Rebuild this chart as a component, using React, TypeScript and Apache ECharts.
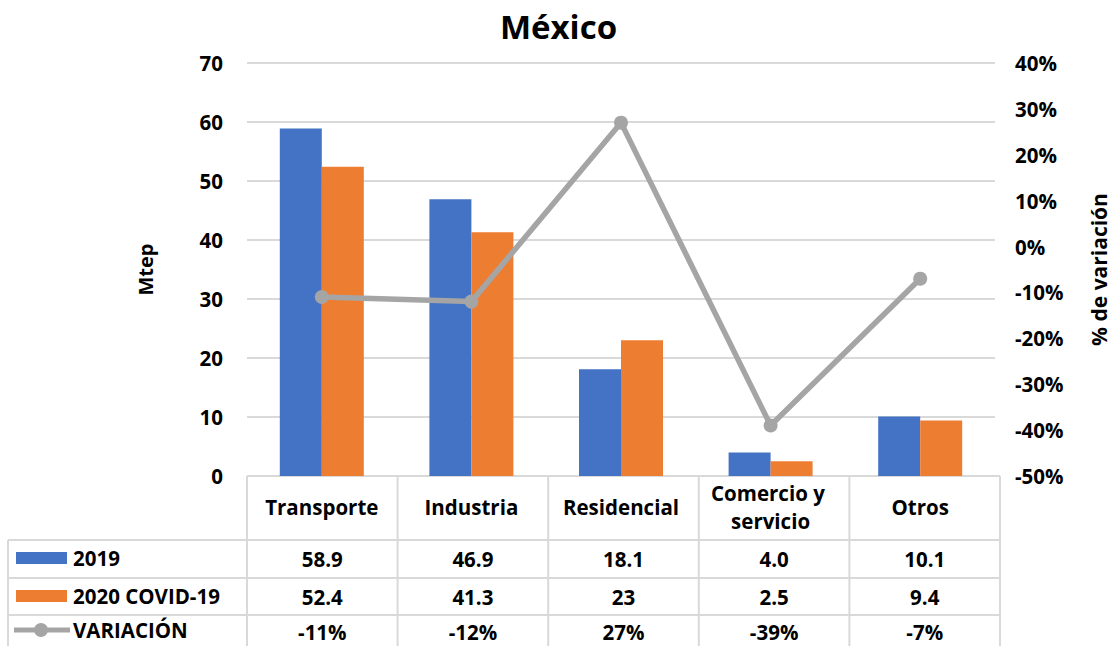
import React, { useEffect, useRef } from "react";
import * as echarts from "echarts";

const categories = ["Transporte", "Industria", "Residencial", "Comercio y servicio", "Otros"];
const values2019 = [58.9, 46.9, 18.1, 4.0, 10.1];
const values2020 = [52.4, 41.3, 23, 2.5, 9.4];
const variation = [-11, -12, 27, -39, -7];
const labels2019 = ["58.9", "46.9", "18.1", "4.0", "10.1"];
const labels2020 = ["52.4", "41.3", "23", "2.5", "9.4"];
const labelsVar = ["-11%", "-12%", "27%", "-39%", "-7%"];
const seriesNames = ["2019", "2020 COVID-19", "VARIACIÓN"];

const W = 1117;
const H = 646;
const GL = 247;
const GR = 1000;
const GT = 63;
const GB = 476;
const FONT = "'Open Sans', 'DejaVu Sans', sans-serif";
const FS = 20.5;
const BLUE = "#4472C4";
const ORANGE = "#ED7D31";
const GRAY = "#A5A5A5";
const LINE = "#D9D9D9";

export default function App() {
  const ref = useRef<HTMLDivElement>(null);
  useEffect(() => {
    const chart = echarts.init(ref.current!, null, { renderer: "svg" });
    const colW = (GR - GL) / categories.length;
    const rows = [476, 540, 578, 615, 652];
    const graphics: any[] = [];
    graphics.push({ type: "line", shape: { x1: GL, y1: rows[0], x2: GR, y2: rows[0] }, style: { stroke: LINE, lineWidth: 2 } });
    for (let i = 1; i < 4; i++) {
      graphics.push({ type: "line", shape: { x1: 8, y1: rows[i], x2: GR, y2: rows[i] }, style: { stroke: LINE, lineWidth: 2 } });
    }
    for (let c = 0; c <= categories.length; c++) {
      const x = GL + c * colW;
      graphics.push({ type: "line", shape: { x1: x, y1: rows[0], x2: x, y2: H }, style: { stroke: LINE, lineWidth: 2 } });
    }
    graphics.push({ type: "line", shape: { x1: 8, y1: rows[1], x2: 8, y2: H }, style: { stroke: LINE, lineWidth: 2 } });
    const rowTexts = [labels2019, labels2020, labelsVar];
    const rowCenters = [559, 597, 632];
    rowTexts.forEach((arr, r) => {
      arr.forEach((t, c) => {
        graphics.push({
          type: "text",
          x: GL + (c + 0.5) * colW,
          y: rowCenters[r],
          style: { text: t, font: `bold ${FS}px ${FONT}`, fill: "#000", textAlign: "center", textVerticalAlign: "middle" },
        });
      });
    });
    const legendY = [558, 596, 630];
    graphics.push({ type: "rect", shape: { x: 16, y: legendY[0] - 6, width: 51, height: 12 }, style: { fill: BLUE } });
    graphics.push({ type: "rect", shape: { x: 16, y: legendY[1] - 6, width: 51, height: 12 }, style: { fill: ORANGE } });
    graphics.push({ type: "line", shape: { x1: 14, y1: legendY[2], x2: 70, y2: legendY[2] }, style: { stroke: GRAY, lineWidth: 5 } });
    graphics.push({ type: "circle", shape: { cx: 41, cy: legendY[2], r: 7 }, style: { fill: GRAY } });
    seriesNames.forEach((n, i) => {
      graphics.push({
        type: "text",
        x: 73,
        y: legendY[i],
        style: { text: n, font: `bold ${FS}px ${FONT}`, fill: "#000", textAlign: "left", textVerticalAlign: "middle" },
      });
    });

    chart.setOption({
      animation: false,
      title: {
        text: "México",
        left: "center",
        top: 5,
        textStyle: { fontFamily: FONT, fontWeight: "bold", fontSize: 33, color: "#000" },
      },
      grid: { left: GL, right: W - GR, top: GT, bottom: H - GB, containLabel: false },
      xAxis: {
        type: "category",
        data: categories,
        axisLine: { show: false },
        axisTick: { show: false },
        axisLabel: {
          interval: 0,
          margin: 31,
          width: 138,
          overflow: "break",
          lineHeight: 28,
          fontFamily: FONT,
          fontWeight: "bold",
          fontSize: FS,
          color: "#000",
          verticalAlign: "middle",
        },
      },
      yAxis: [
        {
          type: "value",
          min: 0,
          max: 70,
          interval: 10,
          name: "Mtep",
          nameLocation: "middle",
          nameGap: 92,
          nameTextStyle: { fontFamily: FONT, fontWeight: "bold", fontSize: 20, color: "#000" },
          axisLabel: { fontFamily: FONT, fontWeight: "bold", fontSize: FS, color: "#000", margin: 24 },
          splitLine: { lineStyle: { color: LINE, width: 2 } },
          axisLine: { show: false },
          axisTick: { show: false },
        },
        {
          type: "value",
          min: -50,
          max: 40,
          interval: 10,
          position: "right",
          name: "% de variación",
          nameLocation: "middle",
          nameGap: 93,
          nameRotate: 90,
          nameTextStyle: { fontFamily: FONT, fontWeight: "bold", fontSize: 21, color: "#000" },
          axisLabel: {
            fontFamily: FONT,
            fontWeight: "bold",
            fontSize: FS,
            color: "#000",
            margin: 20,
            formatter: (v: number) => `${v}%`,
          },
          splitLine: { show: false },
          axisLine: { show: false },
          axisTick: { show: false },
        },
      ],
      series: [
        {
          name: seriesNames[0],
          type: "bar",
          data: values2019,
          itemStyle: { color: BLUE },
          barWidth: 42,
          barGap: "0%",
        },
        {
          name: seriesNames[1],
          type: "bar",
          data: values2020,
          itemStyle: { color: ORANGE },
          barWidth: 42,
          barGap: "0%",
        },
        {
          name: seriesNames[2],
          type: "line",
          yAxisIndex: 1,
          data: variation,
          lineStyle: { color: GRAY, width: 5.5 },
          itemStyle: { color: GRAY },
          symbol: "circle",
          symbolSize: 14,
        },
      ],
      graphic: graphics,
    });
    return () => chart.dispose();
  }, []);
  return <div ref={ref} style={{ width: W, height: H, position: "absolute", left: 0, top: 0 }} />;
}
